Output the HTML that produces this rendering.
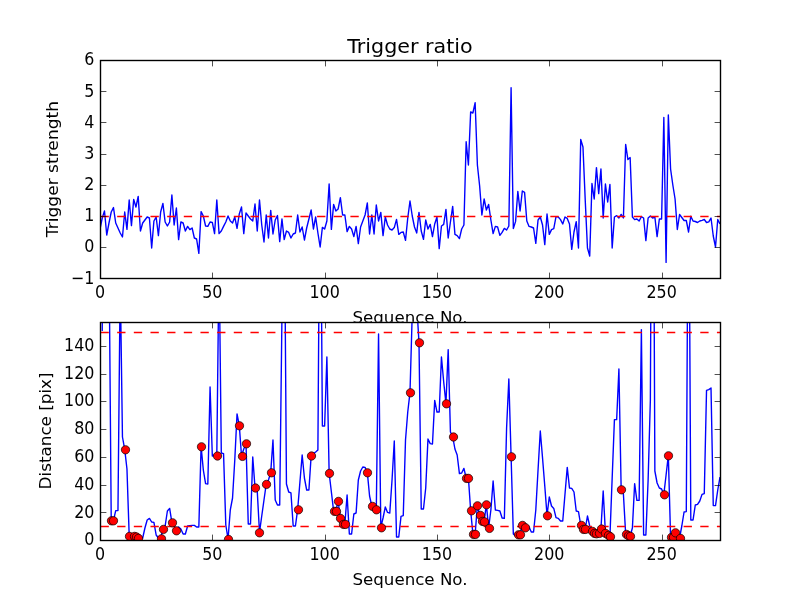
<!DOCTYPE html>
<html><head><meta charset="utf-8"><title>Trigger ratio</title>
<style>html,body{margin:0;padding:0;background:#fff}svg{display:block}</style></head>
<body>
<svg width="800" height="600" viewBox="0 0 800 600">
<defs><clipPath id="c1"><rect x="100.50" y="60.50" width="620.00" height="218.18"/></clipPath><clipPath id="c2"><rect x="100.50" y="322.32" width="620.00" height="218.18"/></clipPath></defs>
<rect width="800" height="600" fill="#fff"/>
<g clip-path="url(#c1)">
<polyline points="100.00,229.00 102.25,218.00 104.49,211.00 106.74,235.00 108.99,223.00 111.23,212.00 113.48,207.60 115.72,223.00 117.97,228.00 120.22,233.00 122.46,237.00 124.71,212.00 126.96,229.40 129.20,200.00 131.45,225.60 133.70,199.40 135.94,207.00 138.19,196.40 140.43,231.00 142.68,223.00 144.93,220.00 147.17,217.00 149.42,218.00 151.67,248.00 153.91,221.00 156.16,217.00 158.41,235.60 160.65,212.00 162.90,203.40 165.14,222.00 167.39,226.00 169.64,222.00 171.88,195.00 174.13,225.00 176.38,208.00 178.62,239.60 180.87,222.00 183.12,223.00 185.36,231.00 187.61,226.40 189.86,229.60 192.10,228.00 194.35,238.00 196.59,239.00 198.84,253.40 201.09,211.60 203.33,216.00 205.58,226.00 207.83,226.40 210.07,222.00 212.32,222.40 214.57,233.60 216.81,200.00 219.06,233.60 221.30,231.00 223.55,226.40 225.80,222.00 228.04,216.00 230.29,221.00 232.54,223.00 234.78,217.00 237.03,228.40 239.28,214.00 241.52,207.00 243.77,233.60 246.01,213.00 248.26,216.00 250.51,219.00 252.75,221.00 255.00,204.00 257.25,231.00 259.49,200.00 261.74,225.00 263.99,242.00 266.23,215.00 268.48,238.00 270.72,210.40 272.97,234.00 275.22,220.00 277.46,215.60 279.71,241.60 281.96,219.00 284.20,239.60 286.45,231.00 288.70,232.40 290.94,238.00 293.19,234.00 295.43,233.00 297.68,215.00 299.93,232.00 302.17,227.00 304.42,240.00 306.67,228.00 308.91,219.00 311.16,210.00 313.41,229.00 315.65,217.00 317.90,233.00 320.14,247.00 322.39,227.40 324.64,229.00 326.88,221.00 329.13,184.00 331.38,229.40 333.62,204.40 335.87,211.00 338.12,209.00 340.36,197.60 342.61,215.00 344.86,215.00 347.10,231.60 349.35,226.40 351.59,229.00 353.84,236.60 356.09,226.40 358.33,243.60 360.58,227.00 362.83,221.00 365.07,215.00 367.32,203.00 369.57,234.00 371.81,215.00 374.06,234.00 376.30,205.00 378.55,221.00 380.80,212.40 383.04,235.60 385.29,217.00 387.54,225.00 389.78,229.00 392.03,230.00 394.28,227.60 396.52,219.40 398.77,234.40 401.01,232.40 403.26,232.00 405.51,240.40 407.75,218.00 410.00,201.00 412.25,216.00 414.49,227.00 416.74,233.00 418.99,212.40 421.23,231.00 423.48,239.40 425.72,220.00 427.97,229.00 430.22,224.40 432.46,236.60 434.71,224.00 436.96,217.00 439.20,248.60 441.45,226.00 443.70,224.40 445.94,209.40 448.19,238.00 450.43,222.00 452.68,206.40 454.93,234.40 457.17,235.60 459.42,238.60 461.67,229.00 463.91,225.00 466.16,141.70 468.41,165.00 470.65,112.00 472.90,113.00 475.14,102.70 477.39,165.00 479.64,186.00 481.88,215.00 484.13,199.00 486.38,210.00 488.62,204.40 490.87,220.00 493.12,233.60 495.36,226.40 497.61,227.00 499.86,235.40 502.10,232.40 504.35,228.40 506.59,230.00 508.84,226.00 511.09,87.70 513.33,228.60 515.58,221.40 517.83,191.40 520.07,211.00 522.32,191.00 524.57,192.40 526.81,221.00 529.06,226.40 531.30,227.00 533.55,228.00 535.80,243.40 538.04,220.00 540.29,217.00 542.54,225.00 544.78,244.60 547.03,214.00 549.28,234.40 551.52,229.60 553.77,228.60 556.01,216.60 558.26,217.00 560.51,219.60 562.75,224.00 565.00,217.00 567.25,218.40 569.49,224.00 571.74,249.40 573.99,232.00 576.23,221.60 578.48,248.00 580.72,139.40 582.97,147.00 585.22,200.00 587.46,248.00 589.71,256.00 591.96,183.50 594.20,199.00 596.45,167.60 598.70,193.60 600.94,169.00 603.19,218.00 605.43,184.00 607.68,202.00 609.93,184.40 612.17,248.00 614.42,217.00 616.67,215.60 618.91,218.00 621.16,214.40 623.41,218.00 625.65,144.40 627.90,159.60 630.14,157.60 632.39,217.00 634.64,219.60 636.88,219.00 639.13,221.00 641.38,216.60 643.62,218.00 645.87,240.60 648.12,218.00 650.36,216.00 652.61,218.00 654.86,217.00 657.10,236.60 659.35,219.00 661.59,219.00 663.84,117.40 666.09,262.40 668.33,115.00 670.58,169.00 672.83,185.00 675.07,199.00 677.32,229.50 679.57,214.50 681.81,217.50 684.06,220.50 686.30,220.50 688.55,232.00 690.80,216.20 693.04,221.00 695.29,221.50 697.54,222.50 699.78,221.00 702.03,220.30 704.28,219.50 706.52,222.50 708.77,221.80 711.01,218.00 713.26,236.00 715.51,247.00 717.75,219.50 720.00,224.00" fill="none" stroke="#0000ff" stroke-width="1.39" stroke-linejoin="round" stroke-linecap="butt"/>
<line x1="100.50" y1="216.50" x2="720.00" y2="216.50" stroke="#ff0000" stroke-width="1.39" stroke-dasharray="8.33 8.33"/>
</g>
<path d="M100.5 278.50v-5.9M100.5 60.50v5.9M212.5 278.50v-5.9M212.5 60.50v5.9M325.5 278.50v-5.9M325.5 60.50v5.9M437.5 278.50v-5.9M437.5 60.50v5.9M549.5 278.50v-5.9M549.5 60.50v5.9M662.5 278.50v-5.9M662.5 60.50v5.9M100.50 278.5h5.9M720.50 278.5h-5.9M100.50 247.5h5.9M720.50 247.5h-5.9M100.50 216.5h5.9M720.50 216.5h-5.9M100.50 185.5h5.9M720.50 185.5h-5.9M100.50 154.5h5.9M720.50 154.5h-5.9M100.50 122.5h5.9M720.50 122.5h-5.9M100.50 91.5h5.9M720.50 91.5h-5.9M100.50 60.5h5.9M720.50 60.5h-5.9" stroke="#000" stroke-width="0.69" fill="none"/>
<rect x="100.5" y="60.5" width="620.0" height="218.0" fill="none" stroke="#000" stroke-width="1.39"/>
<text font-size="16.67" text-anchor="middle" font-family="&quot;DejaVu Sans&quot;, &quot;Liberation Sans&quot;, sans-serif" fill="#000" transform="translate(100.00 298.10) rotate(-0) scale(0.955 1.070)">0</text>
<text font-size="16.67" text-anchor="middle" font-family="&quot;DejaVu Sans&quot;, &quot;Liberation Sans&quot;, sans-serif" fill="#000" transform="translate(212.32 298.10) rotate(-0) scale(0.955 1.070)">50</text>
<text font-size="16.67" text-anchor="middle" font-family="&quot;DejaVu Sans&quot;, &quot;Liberation Sans&quot;, sans-serif" fill="#000" transform="translate(324.64 298.10) rotate(-0) scale(0.955 1.070)">100</text>
<text font-size="16.67" text-anchor="middle" font-family="&quot;DejaVu Sans&quot;, &quot;Liberation Sans&quot;, sans-serif" fill="#000" transform="translate(436.96 298.10) rotate(-0) scale(0.955 1.070)">150</text>
<text font-size="16.67" text-anchor="middle" font-family="&quot;DejaVu Sans&quot;, &quot;Liberation Sans&quot;, sans-serif" fill="#000" transform="translate(549.28 298.10) rotate(-0) scale(0.955 1.070)">200</text>
<text font-size="16.67" text-anchor="middle" font-family="&quot;DejaVu Sans&quot;, &quot;Liberation Sans&quot;, sans-serif" fill="#000" transform="translate(661.59 298.10) rotate(-0) scale(0.955 1.070)">250</text>
<text font-size="16.67" text-anchor="middle" font-family="&quot;DejaVu Sans&quot;, &quot;Liberation Sans&quot;, sans-serif" fill="#000" transform="translate(410.00 322.78) rotate(-0) scale(1.000 1.000)">Sequence No.</text>
<text font-size="16.67" text-anchor="end" font-family="&quot;DejaVu Sans&quot;, &quot;Liberation Sans&quot;, sans-serif" fill="#000" transform="translate(94.44 283.58) rotate(-0) scale(0.955 1.070)">−1</text>
<text font-size="16.67" text-anchor="end" font-family="&quot;DejaVu Sans&quot;, &quot;Liberation Sans&quot;, sans-serif" fill="#000" transform="translate(94.44 252.41) rotate(-0) scale(0.955 1.070)">0</text>
<text font-size="16.67" text-anchor="end" font-family="&quot;DejaVu Sans&quot;, &quot;Liberation Sans&quot;, sans-serif" fill="#000" transform="translate(94.44 221.24) rotate(-0) scale(0.955 1.070)">1</text>
<text font-size="16.67" text-anchor="end" font-family="&quot;DejaVu Sans&quot;, &quot;Liberation Sans&quot;, sans-serif" fill="#000" transform="translate(94.44 190.07) rotate(-0) scale(0.955 1.070)">2</text>
<text font-size="16.67" text-anchor="end" font-family="&quot;DejaVu Sans&quot;, &quot;Liberation Sans&quot;, sans-serif" fill="#000" transform="translate(94.44 158.91) rotate(-0) scale(0.955 1.070)">3</text>
<text font-size="16.67" text-anchor="end" font-family="&quot;DejaVu Sans&quot;, &quot;Liberation Sans&quot;, sans-serif" fill="#000" transform="translate(94.44 127.74) rotate(-0) scale(0.955 1.070)">4</text>
<text font-size="16.67" text-anchor="end" font-family="&quot;DejaVu Sans&quot;, &quot;Liberation Sans&quot;, sans-serif" fill="#000" transform="translate(94.44 96.57) rotate(-0) scale(0.955 1.070)">5</text>
<text font-size="16.67" text-anchor="end" font-family="&quot;DejaVu Sans&quot;, &quot;Liberation Sans&quot;, sans-serif" fill="#000" transform="translate(94.44 65.40) rotate(-0) scale(0.955 1.070)">6</text>
<text font-size="16.67" text-anchor="middle" font-family="&quot;DejaVu Sans&quot;, &quot;Liberation Sans&quot;, sans-serif" fill="#000" transform="translate(57.76 169.09) rotate(-90) scale(1.026 1.000)">Trigger strength</text>
<text font-size="20.00" text-anchor="middle" font-family="&quot;DejaVu Sans&quot;, &quot;Liberation Sans&quot;, sans-serif" fill="#000" transform="translate(410.00 53.06) rotate(-0) scale(1.033 1.000)">Trigger ratio</text>
<rect x="100.00" y="321.82" width="620.00" height="218.18" fill="#fff"/>
<g clip-path="url(#c2)">
<polyline points="102.25,331.00 104.49,-600.00 106.74,250.00 108.99,250.00 111.23,520.40 113.48,520.40 115.72,510.60 117.97,510.60 120.22,278.00 122.46,437.00 124.71,449.40 126.96,469.00 129.20,536.00 131.45,536.00 133.70,536.00 135.94,536.60 138.19,538.00 140.43,539.00 142.68,538.00 144.93,528.00 147.17,520.00 149.42,518.40 151.67,522.00 153.91,522.40 156.16,535.00 158.41,538.00 160.65,538.40 162.90,529.00 165.14,526.00 167.39,511.00 169.64,508.40 171.88,522.40 174.13,526.00 176.38,530.40 178.62,527.00 180.87,529.00 183.12,534.00 185.36,534.00 187.61,526.00 189.86,525.60 192.10,525.40 194.35,525.40 196.59,527.00 198.84,527.00 201.09,446.40 203.33,470.00 205.58,483.60 207.83,484.00 210.07,387.00 212.32,456.00 214.57,455.00 216.81,455.60 219.06,256.00 221.30,453.00 223.55,453.60 225.80,525.00 228.04,539.00 230.29,510.00 232.54,498.00 234.78,460.00 237.03,414.00 239.28,425.40 241.52,456.00 243.77,449.00 246.01,443.40 248.26,524.00 250.51,524.00 252.75,457.00 255.00,487.60 257.25,491.00 259.49,532.40 261.74,516.00 263.99,500.00 266.23,484.00 268.48,480.00 270.72,472.40 272.97,440.00 275.22,500.00 277.46,505.00 279.71,505.00 281.96,315.00 284.20,180.00 286.45,484.00 288.70,492.00 290.94,492.80 293.19,526.00 295.43,526.00 297.68,509.40 299.93,482.00 302.17,455.00 304.42,478.00 306.67,490.00 308.91,490.00 311.16,455.60 313.41,453.60 315.65,452.00 317.90,450.00 320.14,120.00 322.39,426.00 324.64,426.00 326.88,357.00 329.13,473.00 331.38,492.00 333.62,511.00 335.87,511.00 338.12,501.00 340.36,518.00 342.61,524.00 344.86,524.00 347.10,495.00 349.35,534.00 351.59,534.00 353.84,514.00 356.09,513.00 358.33,480.00 360.58,471.00 362.83,467.00 365.07,467.40 367.32,472.40 369.57,496.00 371.81,506.00 374.06,507.00 376.30,509.40 378.55,334.00 380.80,527.40 383.04,518.00 385.29,507.00 387.54,512.40 389.78,513.00 392.03,480.00 394.28,441.00 396.52,537.00 398.77,537.00 401.01,516.40 403.26,515.60 405.51,440.00 407.75,412.00 410.00,392.40 412.25,313.00 414.49,250.00 416.74,305.00 418.99,342.40 421.23,509.00 423.48,509.00 425.72,488.00 427.97,439.00 430.22,443.60 432.46,444.00 434.71,400.40 436.96,412.00 439.20,412.00 441.45,357.00 443.70,382.00 445.94,403.40 448.19,349.60 450.43,432.00 452.68,436.60 454.93,449.00 457.17,455.00 459.42,473.60 461.67,473.00 463.91,468.40 466.16,478.00 468.41,478.00 470.65,510.40 472.90,534.00 475.14,534.00 477.39,505.40 479.64,515.00 481.88,521.00 484.13,521.40 486.38,504.40 488.62,528.00 490.87,510.00 493.12,481.00 495.36,510.00 497.61,510.40 499.86,511.00 502.10,518.00 504.35,518.40 506.59,428.00 508.84,379.00 511.09,456.40 513.33,534.00 515.58,536.00 517.83,534.40 520.07,534.40 522.32,525.00 524.57,527.40 526.81,526.00 529.06,527.00 531.30,532.00 533.55,532.00 535.80,510.00 538.04,470.00 540.29,431.00 542.54,458.00 544.78,486.00 547.03,515.40 549.28,497.00 551.52,506.00 553.77,508.40 556.01,517.60 558.26,518.40 560.51,521.00 562.75,521.00 565.00,494.00 567.25,467.40 569.49,488.00 571.74,488.40 573.99,492.00 576.23,511.00 578.48,511.60 580.72,525.00 582.97,529.00 585.22,529.00 587.46,516.00 589.71,526.00 591.96,531.00 594.20,533.00 596.45,533.40 598.70,533.00 600.94,528.60 603.19,491.00 605.43,533.00 607.68,535.00 609.93,536.40 612.17,478.00 614.42,419.60 616.67,419.60 618.91,369.00 621.16,489.40 623.41,494.00 625.65,534.00 627.90,535.40 630.14,536.00 632.39,528.00 634.64,483.60 636.88,500.40 639.13,500.40 641.38,329.60 643.62,535.00 645.87,535.00 648.12,480.00 650.36,400.00 652.61,-50.00 654.86,471.00 657.10,483.00 659.35,488.00 661.59,489.00 663.84,494.40 666.09,475.00 668.33,455.40 670.58,537.00 672.83,537.00 675.07,532.40 677.32,536.00 679.57,538.00 681.81,526.00 684.06,512.00 686.30,511.60 688.55,110.00 690.80,520.00 693.04,520.00 695.29,505.00 697.54,504.40 699.78,501.00 702.03,494.40 704.28,493.60 706.52,390.40 708.77,389.60 711.01,388.00 713.26,505.60 715.51,505.60 717.75,490.00 720.00,477.00" fill="none" stroke="#0000ff" stroke-width="1.39" stroke-linejoin="round" stroke-linecap="butt"/>
<line x1="100.50" y1="526.50" x2="720.00" y2="526.50" stroke="#ff0000" stroke-width="1.39" stroke-dasharray="8.33 8.33"/>
<line x1="100.50" y1="332.50" x2="720.00" y2="332.50" stroke="#ff0000" stroke-width="1.39" stroke-dasharray="8.33 8.33"/>
<circle cx="111.50" cy="520.80" r="4.17" fill="#ff0000" stroke="#000" stroke-width="0.69"/>
<circle cx="113.50" cy="520.80" r="4.17" fill="#ff0000" stroke="#000" stroke-width="0.69"/>
<circle cx="125.50" cy="449.80" r="4.17" fill="#ff0000" stroke="#000" stroke-width="0.69"/>
<circle cx="129.50" cy="536.40" r="4.17" fill="#ff0000" stroke="#000" stroke-width="0.69"/>
<circle cx="134.50" cy="536.40" r="4.17" fill="#ff0000" stroke="#000" stroke-width="0.69"/>
<circle cx="136.50" cy="537.00" r="4.17" fill="#ff0000" stroke="#000" stroke-width="0.69"/>
<circle cx="138.50" cy="538.40" r="4.17" fill="#ff0000" stroke="#000" stroke-width="0.69"/>
<circle cx="161.50" cy="538.80" r="4.17" fill="#ff0000" stroke="#000" stroke-width="0.69"/>
<circle cx="163.50" cy="529.40" r="4.17" fill="#ff0000" stroke="#000" stroke-width="0.69"/>
<circle cx="172.50" cy="522.80" r="4.17" fill="#ff0000" stroke="#000" stroke-width="0.69"/>
<circle cx="176.50" cy="530.80" r="4.17" fill="#ff0000" stroke="#000" stroke-width="0.69"/>
<circle cx="201.50" cy="446.80" r="4.17" fill="#ff0000" stroke="#000" stroke-width="0.69"/>
<circle cx="217.50" cy="456.00" r="4.17" fill="#ff0000" stroke="#000" stroke-width="0.69"/>
<circle cx="228.50" cy="539.40" r="4.17" fill="#ff0000" stroke="#000" stroke-width="0.69"/>
<circle cx="239.50" cy="425.80" r="4.17" fill="#ff0000" stroke="#000" stroke-width="0.69"/>
<circle cx="242.50" cy="456.40" r="4.17" fill="#ff0000" stroke="#000" stroke-width="0.69"/>
<circle cx="246.50" cy="443.80" r="4.17" fill="#ff0000" stroke="#000" stroke-width="0.69"/>
<circle cx="255.50" cy="488.00" r="4.17" fill="#ff0000" stroke="#000" stroke-width="0.69"/>
<circle cx="259.50" cy="532.80" r="4.17" fill="#ff0000" stroke="#000" stroke-width="0.69"/>
<circle cx="266.50" cy="484.40" r="4.17" fill="#ff0000" stroke="#000" stroke-width="0.69"/>
<circle cx="271.50" cy="472.80" r="4.17" fill="#ff0000" stroke="#000" stroke-width="0.69"/>
<circle cx="298.50" cy="509.80" r="4.17" fill="#ff0000" stroke="#000" stroke-width="0.69"/>
<circle cx="311.50" cy="456.00" r="4.17" fill="#ff0000" stroke="#000" stroke-width="0.69"/>
<circle cx="329.50" cy="473.40" r="4.17" fill="#ff0000" stroke="#000" stroke-width="0.69"/>
<circle cx="334.50" cy="511.40" r="4.17" fill="#ff0000" stroke="#000" stroke-width="0.69"/>
<circle cx="336.50" cy="511.40" r="4.17" fill="#ff0000" stroke="#000" stroke-width="0.69"/>
<circle cx="338.50" cy="501.40" r="4.17" fill="#ff0000" stroke="#000" stroke-width="0.69"/>
<circle cx="340.50" cy="518.40" r="4.17" fill="#ff0000" stroke="#000" stroke-width="0.69"/>
<circle cx="343.50" cy="524.40" r="4.17" fill="#ff0000" stroke="#000" stroke-width="0.69"/>
<circle cx="345.50" cy="524.40" r="4.17" fill="#ff0000" stroke="#000" stroke-width="0.69"/>
<circle cx="367.50" cy="472.80" r="4.17" fill="#ff0000" stroke="#000" stroke-width="0.69"/>
<circle cx="372.50" cy="506.40" r="4.17" fill="#ff0000" stroke="#000" stroke-width="0.69"/>
<circle cx="376.50" cy="509.80" r="4.17" fill="#ff0000" stroke="#000" stroke-width="0.69"/>
<circle cx="381.50" cy="527.80" r="4.17" fill="#ff0000" stroke="#000" stroke-width="0.69"/>
<circle cx="410.50" cy="392.80" r="4.17" fill="#ff0000" stroke="#000" stroke-width="0.69"/>
<circle cx="419.50" cy="342.80" r="4.17" fill="#ff0000" stroke="#000" stroke-width="0.69"/>
<circle cx="446.50" cy="403.80" r="4.17" fill="#ff0000" stroke="#000" stroke-width="0.69"/>
<circle cx="453.50" cy="437.00" r="4.17" fill="#ff0000" stroke="#000" stroke-width="0.69"/>
<circle cx="466.50" cy="478.40" r="4.17" fill="#ff0000" stroke="#000" stroke-width="0.69"/>
<circle cx="468.50" cy="478.40" r="4.17" fill="#ff0000" stroke="#000" stroke-width="0.69"/>
<circle cx="471.50" cy="510.80" r="4.17" fill="#ff0000" stroke="#000" stroke-width="0.69"/>
<circle cx="473.50" cy="534.40" r="4.17" fill="#ff0000" stroke="#000" stroke-width="0.69"/>
<circle cx="475.50" cy="534.40" r="4.17" fill="#ff0000" stroke="#000" stroke-width="0.69"/>
<circle cx="477.50" cy="505.80" r="4.17" fill="#ff0000" stroke="#000" stroke-width="0.69"/>
<circle cx="480.50" cy="515.40" r="4.17" fill="#ff0000" stroke="#000" stroke-width="0.69"/>
<circle cx="482.50" cy="521.40" r="4.17" fill="#ff0000" stroke="#000" stroke-width="0.69"/>
<circle cx="484.50" cy="521.80" r="4.17" fill="#ff0000" stroke="#000" stroke-width="0.69"/>
<circle cx="486.50" cy="504.80" r="4.17" fill="#ff0000" stroke="#000" stroke-width="0.69"/>
<circle cx="489.50" cy="528.40" r="4.17" fill="#ff0000" stroke="#000" stroke-width="0.69"/>
<circle cx="511.50" cy="456.80" r="4.17" fill="#ff0000" stroke="#000" stroke-width="0.69"/>
<circle cx="518.50" cy="534.80" r="4.17" fill="#ff0000" stroke="#000" stroke-width="0.69"/>
<circle cx="520.50" cy="534.80" r="4.17" fill="#ff0000" stroke="#000" stroke-width="0.69"/>
<circle cx="522.50" cy="525.40" r="4.17" fill="#ff0000" stroke="#000" stroke-width="0.69"/>
<circle cx="525.50" cy="527.80" r="4.17" fill="#ff0000" stroke="#000" stroke-width="0.69"/>
<circle cx="547.50" cy="515.80" r="4.17" fill="#ff0000" stroke="#000" stroke-width="0.69"/>
<circle cx="581.50" cy="525.40" r="4.17" fill="#ff0000" stroke="#000" stroke-width="0.69"/>
<circle cx="583.50" cy="529.40" r="4.17" fill="#ff0000" stroke="#000" stroke-width="0.69"/>
<circle cx="585.50" cy="529.40" r="4.17" fill="#ff0000" stroke="#000" stroke-width="0.69"/>
<circle cx="592.50" cy="531.40" r="4.17" fill="#ff0000" stroke="#000" stroke-width="0.69"/>
<circle cx="594.50" cy="533.40" r="4.17" fill="#ff0000" stroke="#000" stroke-width="0.69"/>
<circle cx="596.50" cy="533.80" r="4.17" fill="#ff0000" stroke="#000" stroke-width="0.69"/>
<circle cx="599.50" cy="533.40" r="4.17" fill="#ff0000" stroke="#000" stroke-width="0.69"/>
<circle cx="601.50" cy="529.00" r="4.17" fill="#ff0000" stroke="#000" stroke-width="0.69"/>
<circle cx="605.50" cy="533.40" r="4.17" fill="#ff0000" stroke="#000" stroke-width="0.69"/>
<circle cx="608.50" cy="535.40" r="4.17" fill="#ff0000" stroke="#000" stroke-width="0.69"/>
<circle cx="610.50" cy="536.80" r="4.17" fill="#ff0000" stroke="#000" stroke-width="0.69"/>
<circle cx="621.50" cy="489.80" r="4.17" fill="#ff0000" stroke="#000" stroke-width="0.69"/>
<circle cx="626.50" cy="534.40" r="4.17" fill="#ff0000" stroke="#000" stroke-width="0.69"/>
<circle cx="628.50" cy="535.80" r="4.17" fill="#ff0000" stroke="#000" stroke-width="0.69"/>
<circle cx="630.50" cy="536.40" r="4.17" fill="#ff0000" stroke="#000" stroke-width="0.69"/>
<circle cx="664.50" cy="494.80" r="4.17" fill="#ff0000" stroke="#000" stroke-width="0.69"/>
<circle cx="668.50" cy="455.80" r="4.17" fill="#ff0000" stroke="#000" stroke-width="0.69"/>
<circle cx="671.50" cy="537.40" r="4.17" fill="#ff0000" stroke="#000" stroke-width="0.69"/>
<circle cx="673.50" cy="537.40" r="4.17" fill="#ff0000" stroke="#000" stroke-width="0.69"/>
<circle cx="675.50" cy="532.80" r="4.17" fill="#ff0000" stroke="#000" stroke-width="0.69"/>
<circle cx="680.50" cy="538.40" r="4.17" fill="#ff0000" stroke="#000" stroke-width="0.69"/>
</g>
<path d="M100.5 540.50v-5.9M100.5 322.50v5.9M212.5 540.50v-5.9M212.5 322.50v5.9M325.5 540.50v-5.9M325.5 322.50v5.9M437.5 540.50v-5.9M437.5 322.50v5.9M549.5 540.50v-5.9M549.5 322.50v5.9M662.5 540.50v-5.9M662.5 322.50v5.9M100.50 540.5h5.9M720.50 540.5h-5.9M100.50 512.5h5.9M720.50 512.5h-5.9M100.50 485.5h5.9M720.50 485.5h-5.9M100.50 457.5h5.9M720.50 457.5h-5.9M100.50 429.5h5.9M720.50 429.5h-5.9M100.50 401.5h5.9M720.50 401.5h-5.9M100.50 374.5h5.9M720.50 374.5h-5.9M100.50 346.5h5.9M720.50 346.5h-5.9" stroke="#000" stroke-width="0.69" fill="none"/>
<rect x="100.5" y="322.5" width="620.0" height="218.0" fill="none" stroke="#000" stroke-width="1.39"/>
<text font-size="16.67" text-anchor="middle" font-family="&quot;DejaVu Sans&quot;, &quot;Liberation Sans&quot;, sans-serif" fill="#000" transform="translate(100.00 559.92) rotate(-0) scale(0.955 1.070)">0</text>
<text font-size="16.67" text-anchor="middle" font-family="&quot;DejaVu Sans&quot;, &quot;Liberation Sans&quot;, sans-serif" fill="#000" transform="translate(212.32 559.92) rotate(-0) scale(0.955 1.070)">50</text>
<text font-size="16.67" text-anchor="middle" font-family="&quot;DejaVu Sans&quot;, &quot;Liberation Sans&quot;, sans-serif" fill="#000" transform="translate(324.64 559.92) rotate(-0) scale(0.955 1.070)">100</text>
<text font-size="16.67" text-anchor="middle" font-family="&quot;DejaVu Sans&quot;, &quot;Liberation Sans&quot;, sans-serif" fill="#000" transform="translate(436.96 559.92) rotate(-0) scale(0.955 1.070)">150</text>
<text font-size="16.67" text-anchor="middle" font-family="&quot;DejaVu Sans&quot;, &quot;Liberation Sans&quot;, sans-serif" fill="#000" transform="translate(549.28 559.92) rotate(-0) scale(0.955 1.070)">200</text>
<text font-size="16.67" text-anchor="middle" font-family="&quot;DejaVu Sans&quot;, &quot;Liberation Sans&quot;, sans-serif" fill="#000" transform="translate(661.59 559.92) rotate(-0) scale(0.955 1.070)">250</text>
<text font-size="16.67" text-anchor="middle" font-family="&quot;DejaVu Sans&quot;, &quot;Liberation Sans&quot;, sans-serif" fill="#000" transform="translate(410.00 584.59) rotate(-0) scale(1.000 1.000)">Sequence No.</text>
<text font-size="16.67" text-anchor="end" font-family="&quot;DejaVu Sans&quot;, &quot;Liberation Sans&quot;, sans-serif" fill="#000" transform="translate(94.44 545.40) rotate(-0) scale(0.955 1.070)">0</text>
<text font-size="16.67" text-anchor="end" font-family="&quot;DejaVu Sans&quot;, &quot;Liberation Sans&quot;, sans-serif" fill="#000" transform="translate(94.44 517.61) rotate(-0) scale(0.955 1.070)">20</text>
<text font-size="16.67" text-anchor="end" font-family="&quot;DejaVu Sans&quot;, &quot;Liberation Sans&quot;, sans-serif" fill="#000" transform="translate(94.44 489.81) rotate(-0) scale(0.955 1.070)">40</text>
<text font-size="16.67" text-anchor="end" font-family="&quot;DejaVu Sans&quot;, &quot;Liberation Sans&quot;, sans-serif" fill="#000" transform="translate(94.44 462.02) rotate(-0) scale(0.955 1.070)">60</text>
<text font-size="16.67" text-anchor="end" font-family="&quot;DejaVu Sans&quot;, &quot;Liberation Sans&quot;, sans-serif" fill="#000" transform="translate(94.44 434.22) rotate(-0) scale(0.955 1.070)">80</text>
<text font-size="16.67" text-anchor="end" font-family="&quot;DejaVu Sans&quot;, &quot;Liberation Sans&quot;, sans-serif" fill="#000" transform="translate(94.44 406.43) rotate(-0) scale(0.955 1.070)">100</text>
<text font-size="16.67" text-anchor="end" font-family="&quot;DejaVu Sans&quot;, &quot;Liberation Sans&quot;, sans-serif" fill="#000" transform="translate(94.44 378.64) rotate(-0) scale(0.955 1.070)">120</text>
<text font-size="16.67" text-anchor="end" font-family="&quot;DejaVu Sans&quot;, &quot;Liberation Sans&quot;, sans-serif" fill="#000" transform="translate(94.44 350.84) rotate(-0) scale(0.955 1.070)">140</text>
<text font-size="16.67" text-anchor="middle" font-family="&quot;DejaVu Sans&quot;, &quot;Liberation Sans&quot;, sans-serif" fill="#000" transform="translate(50.52 430.91) rotate(-90) scale(1.006 1.000)">Distance [pix]</text>
</svg>
</body></html>
